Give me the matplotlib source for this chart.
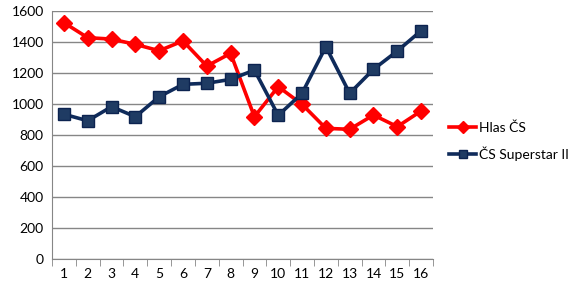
import numpy as np
import matplotlib.pyplot as plt

# episode numbers and viewer counts
episodes = list(range(1, 17))
hlas_cs = [1523, 1426, 1417, 1383, 1342, 1405, 1243, 1325, 916, 1110, 996, 841, 835, 927, 852, 953]
cs_superstar = [932, 890, 981, 916, 1045, 1125, 1132, 1157, 1217, 925, 1067, 1368, 1067, 1222, 1340, 1471]
y_ticks = [0, 200, 400, 600, 800, 1000, 1200, 1400, 1600]

plt.rcParams['font.family'] = ['Lato', 'DejaVu Sans']

fig = plt.figure(figsize=(5.74, 2.90), dpi=100)
ax = fig.add_axes([0.0906, 0.108, 0.6638, 0.855])

ax.plot(episodes, hlas_cs, color='#FF0000', lw=2.6, marker='D', ms=8,
        mfc='#FF0000', mec='#FF0000', label='Hlas ČS', zorder=3)
ax.plot(episodes, cs_superstar, color='#0F2B5B', lw=2.6, marker='s', ms=8.5,
        mfc='#1F3B63', mec='#0C2350', mew=1, label='ČS Superstar II', zorder=3)

ax.set_xlim(0.5, 16.5)
ax.set_ylim(0, 1600)
ax.set_yticks(y_ticks)
ax.set_xticks(episodes)
ax.set_xticks(np.arange(0.5, 17, 1), minor=True)
ax.tick_params(axis='x', which='major', length=0, pad=7, labelsize=10, colors='#000000')
ax.tick_params(axis='x', which='minor', length=5, color='#868686', direction='out')
ax.tick_params(axis='y', length=0, pad=6, labelsize=10)

ax.grid(axis='y', color='#868686', lw=1)
ax.set_axisbelow(True)
for side in ['top', 'right']:
    ax.spines[side].set_visible(False)
ax.spines['left'].set_color('#868686')
ax.spines['bottom'].set_color('#868686')

leg = fig.legend(loc='upper left', bbox_to_anchor=(0.772, 0.6), frameon=False,
                 fontsize=10, handlelength=2.0, handletextpad=0.2, labelspacing=0.9,
                 markerscale=0.75, borderaxespad=0)

fig.savefig('out.png', dpi=100)
